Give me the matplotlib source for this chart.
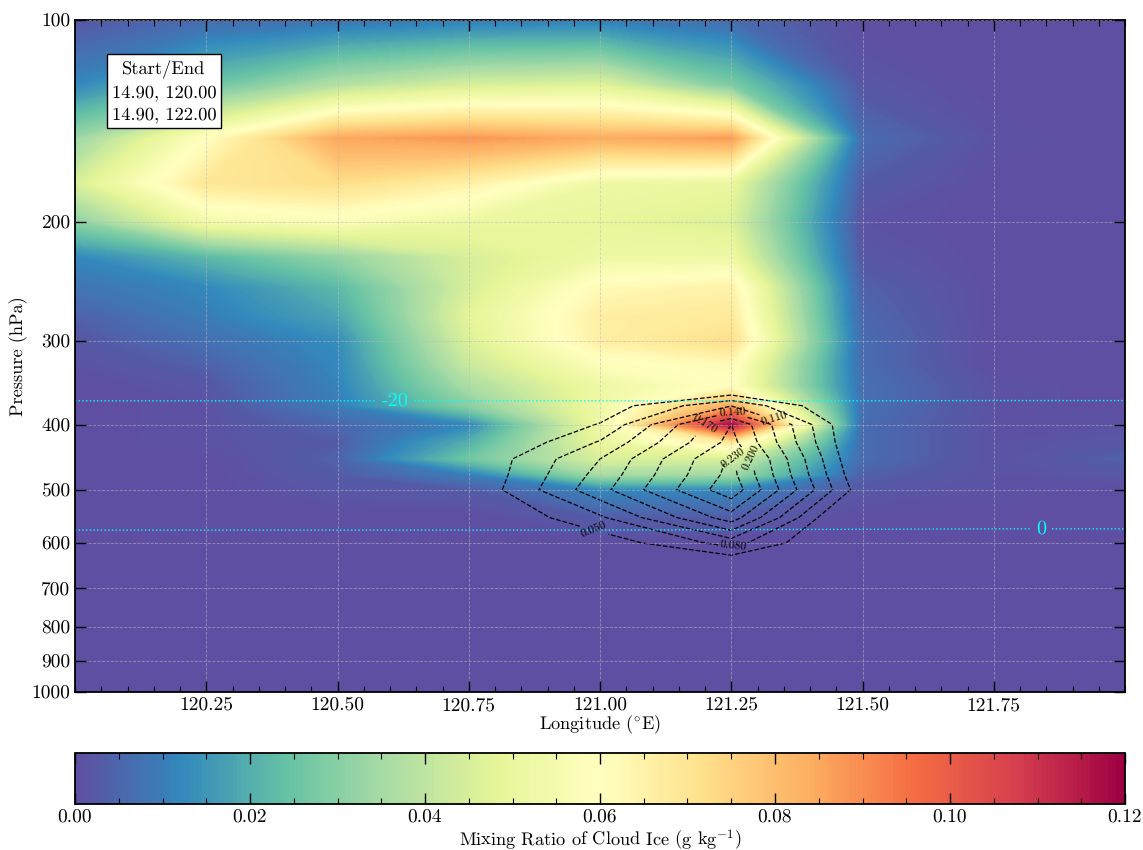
import matplotlib
matplotlib.use("Agg")
import matplotlib.pyplot as plt
import numpy as np
from matplotlib.ticker import MultipleLocator, NullLocator

plt.rcParams["font.family"] = ["cmr10", "DejaVu Serif"]
plt.rcParams["mathtext.fontset"] = "cm"
plt.rcParams["axes.formatter.use_mathtext"] = True
plt.rcParams["axes.unicode_minus"] = False
plt.rcParams["text.hinting"] = "none"

lons = [120.0, 120.25, 120.5, 120.75, 121.0, 121.25, 121.5, 121.75, 122.0]
pressure = [100, 125, 150, 175, 200, 225, 250, 275, 300, 325, 350, 375, 400,
            425, 450, 475, 500, 550, 600, 650, 1000]

# cloud ice mixing ratio, rows follow pressure, columns follow lons
ice = [
    [.002, .006, .008, .010, .010, .006, .000, .000, .000],
    [.012, .025, .038, .045, .047, .028, .002, .000, .000],
    [.033, .060, .085, .088, .084, .087, .006, .001, .000],
    [.045, .069, .072, .065, .052, .050, .003, .000, .000],
    [.030, .053, .057, .051, .049, .046, .001, .000, .000],
    [.012, .022, .032, .045, .052, .052, .002, .000, .000],
    [.008, .012, .022, .045, .062, .065, .004, .000, .000],
    [.004, .010, .018, .048, .066, .068, .005, .000, .000],
    [.002, .007, .013, .046, .066, .072, .006, .000, .000],
    [.001, .004, .012, .042, .058, .062, .006, .000, .000],
    [.000, .002, .011, .036, .052, .060, .007, .001, .000],
    [.000, .001, .010, .030, .052, .085, .007, .001, .000],
    [.000, .001, .005, .012, .052, .118, .006, .001, .001],
    [.000, .001, .003, .020, .050, .068, .006, .001, .002],
    [.000, .000, .004, .026, .045, .045, .006, .001, .004],
    [.000, .000, .003, .010, .035, .034, .004, .001, .002],
    [.000, .000, .002, .003, .012, .012, .002, .001, .000],
    [.000, .000, .000, .000, .003, .003, .000, .000, .000],
    [.000, .000, .000, .000, .000, .000, .000, .000, .000],
    [.000, .000, .000, .000, .000, .000, .000, .000, .000],
    [.000, .000, .000, .000, .000, .000, .000, .000, .000],
]

# second field drawn as dashed contours, zero outside these rows
contour_pressure = [325, 350, 375, 400, 425, 450, 475, 500, 550, 600, 650, 700]
contour_lons = [120.5, 120.75, 121.0, 121.25, 121.5, 121.75]
contour_field = [
    [.000, .000, .000, .000, .000, .000],
    [.000, .000, .010, .000, .000, .000],
    [.000, .000, .030, .109, .000, .000],
    [.000, .000, .052, .200, .005, .000],
    [.000, .002, .083, .210, .008, .000],
    [.000, .020, .110, .235, .012, .000],
    [.000, .020, .120, .240, .020, .000],
    [.000, .0225, .130, .250, .030, .000],
    [.000, .010, .075, .186, -.020, .000],
    [.000, .000, .030, .093, -.010, .000],
    [.000, .000, .000, .010, .000, .000],
    [.000, .000, .000, .000, .000, .000],
]
contour_levels = [.05, .08, .11, .14, .17, .20, .23]

# temperature on a few levels, only the -20 and 0 isotherms are shown
temp_pressure = [300, 350, 400, 550, 600, 700]
temperature = [
    [-32.0, -32.0, -32.0, -32.0, -32.0, -32.0, -32.0, -32.0, -32.0],
    [-23.0, -23.0, -23.0, -23.0, -23.0, -23.0, -23.0, -22.9, -22.9],
    [-15.0, -15.0, -15.0, -15.0, -15.0, -15.0, -15.0, -15.0, -15.0],
    [-3.0, -3.0, -3.0, -3.0, -3.0, -2.9, -2.8, -2.7, -2.7],
    [3.2, 3.2, 3.2, 3.2, 3.2, 3.3, 3.4, 3.5, 3.5],
    [10.0, 10.0, 10.0, 10.0, 10.0, 10.0, 10.0, 10.0, 10.0],
]

x_ticks = [120.25, 120.5, 120.75, 121.0, 121.25, 121.5, 121.75]
p_ticks = [100, 200, 300, 400, 500, 600, 700, 800, 900, 1000]
cbar_ticks = [0.0, 0.02, 0.04, 0.06, 0.08, 0.10, 0.12]

W, H = 1143, 850
fig = plt.figure(figsize=(W / 100, H / 100), dpi=100)
ax = fig.add_axes([75 / W, 1 - 692 / H, 1050 / W, 672 / H])

mesh = ax.contourf(lons, pressure, np.array(ice), levels=np.linspace(0, 0.12, 241),
                   cmap="Spectral_r", vmin=0, vmax=0.12)

cs = ax.contour(contour_lons, contour_pressure, np.array(contour_field),
                levels=contour_levels, colors="black", linewidths=0.9, linestyles="--")
ax.clabel(cs, fmt="%.3f", fontsize=8.5, inline=True, inline_spacing=2,
          manual=[(120.99, 572), (121.253, 606), (121.333, 390), (121.253, 384),
                  (121.2, 399), (121.284, 450), (121.253, 449)])

temp = ax.contour(lons, temp_pressure, np.array(temperature), levels=[-20, 0],
                  colors="#00ffff", linewidths=1.0, linestyles=":")
ax.clabel(temp, fmt="%d", fontsize=14.5, inline=True, inline_spacing=6,
          manual=[(120.61, 369), (121.84, 570)])

ax.set_yscale("log")
ax.set_ylim(1000, 100)
ax.set_xlim(120.0, 122.0)
ax.set_yticks(p_ticks)
ax.set_yticklabels([str(p) for p in p_ticks])
ax.yaxis.set_minor_locator(NullLocator())
ax.set_xticks(x_ticks)
ax.set_xticklabels([f"{x:.2f}" for x in x_ticks])
ax.xaxis.set_minor_locator(MultipleLocator(0.05))
ax.tick_params(axis="both", which="major", direction="in", top=True, right=True,
               length=8, width=1.0, labelsize=14)
ax.tick_params(axis="both", which="minor", direction="in", top=True, right=True,
               length=4, width=0.8)
ax.grid(True, which="major", color="#bbbbbb", linestyle="--", linewidth=0.6, alpha=0.6)
ax.set_axisbelow(False)
ax.set_xlabel(r"Longitude ($^{\circ}$E)", fontsize=13.2, labelpad=-0.5)
ax.set_ylabel("Pressure (hPa)", fontsize=13.2, labelpad=2)
for spine in ax.spines.values():
    spine.set_linewidth(1.3)

ax.text((164 - 75) / 1050, 1 - (91.5 - 20) / 672,
        "Start/End\n14.90, 120.00\n14.90, 122.00", transform=ax.transAxes,
        ha="center", va="center", fontsize=13.3, linespacing=1.45,
        bbox=dict(boxstyle="square,pad=0.25", facecolor="white", edgecolor="black", linewidth=1.0))

cax = fig.add_axes([75 / W, 1 - 804 / H, 1050 / W, 51 / H])
cbar = fig.colorbar(mesh, cax=cax, orientation="horizontal")
cbar.set_ticks(cbar_ticks)
cbar.set_ticklabels([f"{t:.2f}" for t in cbar_ticks])
cax.xaxis.set_minor_locator(MultipleLocator(0.005))
cax.tick_params(axis="x", which="major", direction="in", top=True, bottom=True,
                length=8, width=1.0, labelsize=14)
cax.tick_params(axis="x", which="minor", direction="in", top=True, bottom=True,
                length=4, width=0.8)
cbar.outline.set_linewidth(1.3)
cbar.set_label(r"Mixing Ratio of Cloud Ice (g kg$^{-1}$)", fontsize=13.2, labelpad=1)

fig.savefig("out.png", dpi=100)
